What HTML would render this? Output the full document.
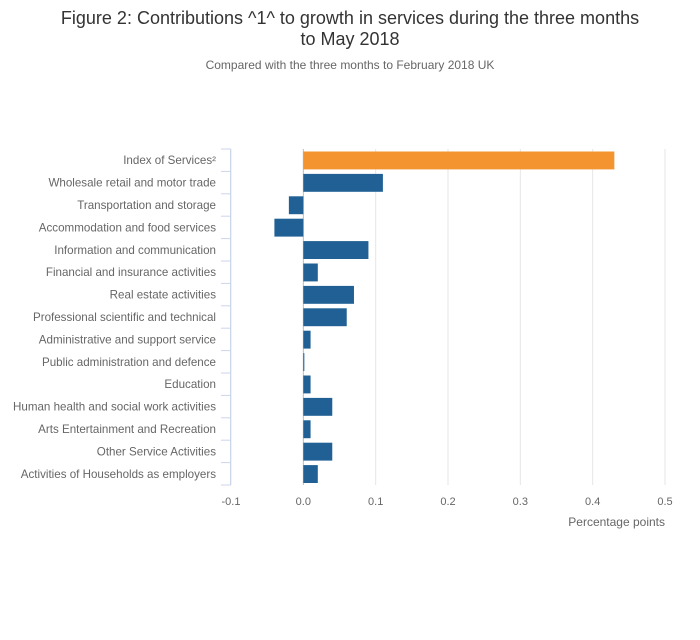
<!DOCTYPE html>
<html><head><meta charset="utf-8"><style>
body{margin:0;background:#fff;font-family:"Liberation Sans",sans-serif;}
svg text{font-family:"Liberation Sans",sans-serif;}
</style></head><body>
<svg width="700" height="635">
<text x="350" y="24" text-anchor="middle" font-size="18" fill="#333">Figure 2: Contributions ^1^ to growth in services during the three months</text>
<text x="350" y="45" text-anchor="middle" font-size="18" fill="#333">to May 2018</text>
<text x="350" y="69" text-anchor="middle" font-size="12" fill="#666">Compared with the three months to February 2018 UK</text>
<g id="grid"></g><g id="bars"></g><g id="axes"></g>
<text x="665" y="526" text-anchor="end" font-size="12" fill="#666">Percentage points</text>
</svg>
<script>
const categories=["Index of Services²","Wholesale retail and motor trade","Transportation and storage","Accommodation and food services","Information and communication","Financial and insurance activities","Real estate activities","Professional scientific and technical","Administrative and support service","Public administration and defence","Education","Human health and social work activities","Arts Entertainment and Recreation","Other Service Activities","Activities of Households as employers"];
const values=[0.43,0.11,-0.02,-0.04,0.09,0.02,0.07,0.06,0.01,0.001,0.01,0.04,0.01,0.04,0.02];
const xTicks=[-0.1,0,0.1,0.2,0.3,0.4,0.5];
const xTickLabels=["-0.1","0.0","0.1","0.2","0.3","0.4","0.5"];
const NS="http://www.w3.org/2000/svg";
const x0=231,x1=665,plotTop=149,plotBot=485;
const xs=v=>x0+(v-(-0.1))/0.6*(x1-x0);
const step=(plotBot-plotTop)/categories.length;
const ys=i=>plotTop+i*step;
function mk(t,a,p){const e=document.createElementNS(NS,t);for(const k in a)e.setAttribute(k,a[k]);p.appendChild(e);return e;}
const grid=document.getElementById('grid'),bars=document.getElementById('bars'),axes=document.getElementById('axes');
xTicks.forEach((t,i)=>{
 const l=mk('line',{x1:xs(t),x2:xs(t),y1:plotTop,y2:plotBot,stroke:t===0?'#bbb':'#e6e6e6','stroke-width':1},grid);
 
 
 const tx=mk('text',{x:xs(t),y:plotBot+20,'text-anchor':'middle','font-size':11,fill:'#666'},axes);
 tx.textContent=xTickLabels[i];
 
 
});
const ax=mk('line',{x1:x0-0.5,x2:x0-0.5,y1:plotTop,y2:plotBot,stroke:'#ccd6eb'},axes);


for(let i=0;i<=categories.length;i++){
 const tk=mk('line',{x1:x0-10,x2:x0,y1:ys(i),y2:ys(i),stroke:'#ccd6eb'},axes);
 
 
}
categories.forEach((c,i)=>{
 const v=values[i];
 const r=mk('rect',{x:Math.min(xs(0),xs(v)),y:ys(i)+2.5,width:Math.max(1,Math.abs(xs(v)-xs(0))),height:step-4.5,fill:i===0?'#f39431':'#206095'},bars);
 
 
 const t=mk('text',{x:216,y:ys(i)+step/2+4,'text-anchor':'end','font-size':11.6,fill:'#666'},axes);
 t.textContent=c;
 
 
});
</script>
</body></html>
